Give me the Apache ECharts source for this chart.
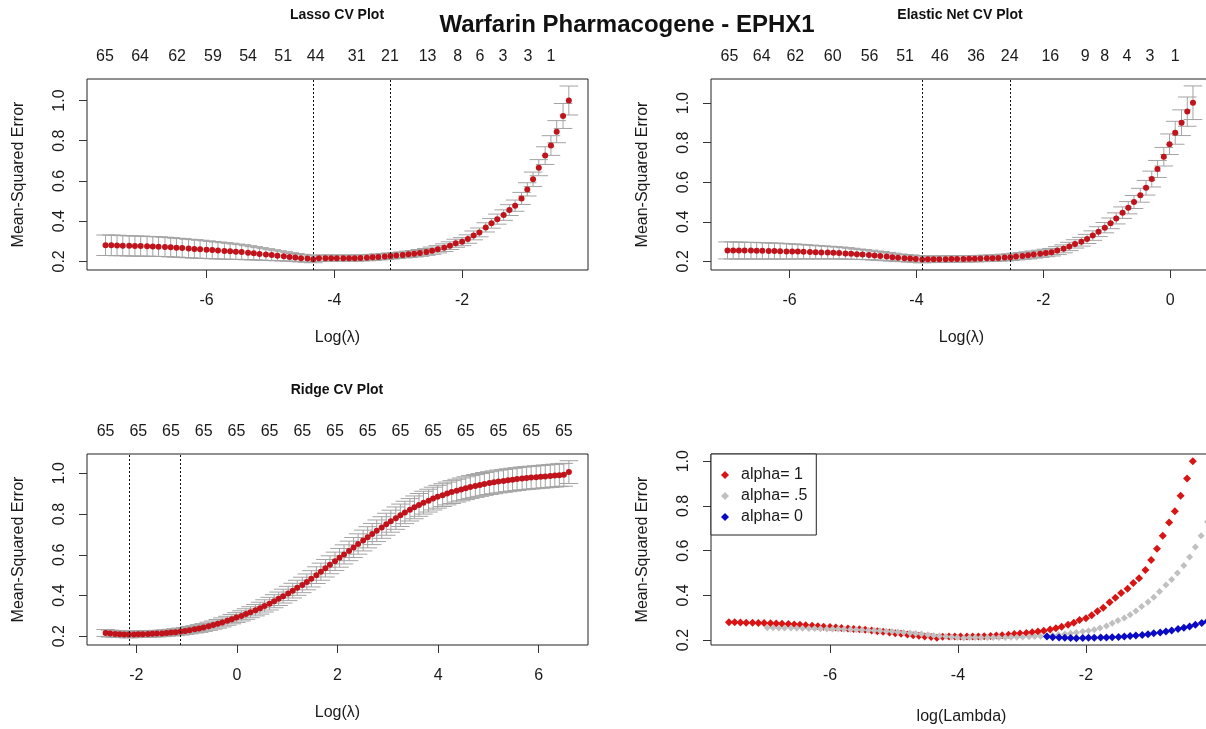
<!DOCTYPE html>
<html>
<head>
<meta charset="utf-8">
<title>Warfarin Pharmacogene - EPHX1</title>
<script src="https://cdn.jsdelivr.net/npm/echarts@6.0.0/dist/echarts.min.js"></script>
<style>
html, body { margin: 0; padding: 0; background: #fff; }
#chart { width: 1206px; height: 729px; }
</style>
</head>
<body>
<div id="chart"></div>
<script>
// log(lambda) grids and CV results
var lassoX = [-7.58, -7.49, -7.40, -7.31, -7.21, -7.12, -7.03, -6.93, -6.84, -6.75,
	-6.65, -6.56, -6.47, -6.38, -6.28, -6.19, -6.10, -6.00, -5.91, -5.82,
	-5.72, -5.63, -5.54, -5.45, -5.35, -5.26, -5.17, -5.07, -4.98, -4.89,
	-4.79, -4.70, -4.61, -4.52, -4.42, -4.33, -4.24, -4.14, -4.05, -3.96,
	-3.86, -3.77, -3.68, -3.59, -3.49, -3.40, -3.31, -3.21, -3.12, -3.03,
	-2.93, -2.84, -2.75, -2.66, -2.56, -2.47, -2.38, -2.28, -2.19, -2.10,
	-2.00, -1.91, -1.82, -1.73, -1.63, -1.54, -1.45, -1.35, -1.26, -1.17,
	-1.07, -0.98, -0.89, -0.80, -0.70, -0.61, -0.52, -0.42, -0.33];
var lassoMse = [0.280, 0.280, 0.279, 0.278, 0.277, 0.276, 0.276, 0.275, 0.274, 0.273,
	0.272, 0.270, 0.268, 0.266, 0.264, 0.262, 0.260, 0.258, 0.256, 0.254,
	0.252, 0.250, 0.248, 0.246, 0.243, 0.240, 0.237, 0.234, 0.231, 0.228,
	0.225, 0.222, 0.219, 0.216, 0.214, 0.210, 0.215, 0.216, 0.216, 0.216,
	0.216, 0.216, 0.216, 0.217, 0.218, 0.220, 0.222, 0.224, 0.227, 0.229,
	0.232, 0.235, 0.238, 0.242, 0.247, 0.253, 0.260, 0.268, 0.278,
	0.290, 0.298, 0.311, 0.329, 0.344, 0.369, 0.389, 0.410, 0.430, 0.455,
	0.477, 0.513, 0.558, 0.608, 0.666, 0.726, 0.776, 0.845, 0.923, 1.000];
var lassoSe = [0.051, 0.051, 0.051, 0.050, 0.050, 0.050, 0.050, 0.049, 0.049, 0.049,
	0.048, 0.048, 0.047, 0.047, 0.046, 0.046, 0.045, 0.044, 0.043, 0.042,
	0.041, 0.040, 0.038, 0.037, 0.035, 0.033, 0.031, 0.029, 0.027, 0.025,
	0.023, 0.021, 0.020, 0.019, 0.018, 0.017, 0.016, 0.016, 0.015, 0.015,
	0.015, 0.015, 0.015, 0.015, 0.015, 0.015, 0.015, 0.015, 0.015, 0.015,
	0.015, 0.016, 0.016, 0.017, 0.017, 0.018, 0.018, 0.019, 0.019,
	0.020, 0.020, 0.021, 0.022, 0.022, 0.023, 0.024, 0.025, 0.026, 0.027,
	0.028, 0.030, 0.033, 0.036, 0.040, 0.044, 0.049, 0.055, 0.062, 0.072];
var lassoLines = [-4.33, -3.12];
var lassoTopAt = [-7.59, -7.04, -6.46, -5.90, -5.35, -4.80, -4.29, -3.65, -3.13, -2.54, -2.07, -1.72, -1.36, -0.97, -0.61];
var lassoTopLab = ['65', '64', '62', '59', '54', '51', '44', '31', '21', '13', '8', '6', '3', '3', '1'];

var enetX = [-6.98, -6.89, -6.80, -6.71, -6.61, -6.52, -6.43, -6.33, -6.24, -6.15,
	-6.05, -5.96, -5.87, -5.78, -5.68, -5.59, -5.50, -5.40, -5.31, -5.22,
	-5.12, -5.03, -4.94, -4.85, -4.75, -4.66, -4.57, -4.47, -4.38, -4.29,
	-4.19, -4.10, -4.01, -3.91, -3.82, -3.73, -3.64, -3.54, -3.45, -3.36,
	-3.26, -3.17, -3.08, -2.99, -2.89, -2.80, -2.71, -2.61, -2.52, -2.43,
	-2.33, -2.24, -2.15, -2.05, -1.96, -1.87, -1.78, -1.68, -1.59, -1.50,
	-1.40, -1.31, -1.22, -1.13, -1.03, -0.94, -0.85, -0.75, -0.66, -0.57,
	-0.47, -0.38, -0.29, -0.20, -0.10, -0.01, 0.08, 0.18, 0.27, 0.36];
var enetMse = [0.255, 0.255, 0.254, 0.254, 0.254, 0.253, 0.253, 0.252, 0.252, 0.251,
	0.250, 0.250, 0.249, 0.248, 0.247, 0.246, 0.245, 0.244, 0.243, 0.242,
	0.240, 0.238, 0.236, 0.234, 0.232, 0.229, 0.227, 0.224, 0.221, 0.218,
	0.216, 0.214, 0.212, 0.209, 0.211, 0.211, 0.211, 0.211, 0.212, 0.212,
	0.212, 0.213, 0.213, 0.214, 0.215, 0.216, 0.217, 0.219, 0.221, 0.224,
	0.227, 0.230, 0.234, 0.238, 0.242, 0.246, 0.254, 0.263, 0.275, 0.288,
	0.299, 0.313, 0.330, 0.350, 0.370, 0.392, 0.417, 0.446, 0.471, 0.500,
	0.534, 0.572, 0.616, 0.667, 0.729, 0.792, 0.850, 0.901, 0.957, 1.002];
var enetSe = [0.043, 0.043, 0.043, 0.042, 0.042, 0.042, 0.041, 0.041, 0.040, 0.040,
	0.039, 0.038, 0.037, 0.036, 0.035, 0.034, 0.033, 0.032, 0.031, 0.030,
	0.029, 0.028, 0.026, 0.025, 0.024, 0.023, 0.022, 0.021, 0.020, 0.019,
	0.018, 0.018, 0.017, 0.017, 0.016, 0.016, 0.016, 0.016, 0.016, 0.016,
	0.016, 0.016, 0.016, 0.016, 0.016, 0.016, 0.016, 0.017, 0.017, 0.017,
	0.017, 0.018, 0.018, 0.018, 0.019, 0.019, 0.020, 0.020, 0.021, 0.021,
	0.022, 0.023, 0.024, 0.025, 0.026, 0.027, 0.028, 0.029, 0.031, 0.033,
	0.035, 0.037, 0.040, 0.043, 0.047, 0.052, 0.058, 0.065, 0.074, 0.085];
var enetLines = [-3.91, -2.52];
var enetTopAt = [-6.95, -6.44, -5.91, -5.32, -4.74, -4.18, -3.63, -3.06, -2.53, -1.89, -1.34, -1.03, -0.68, -0.32, 0.08];
var enetTopLab = ['65', '64', '62', '60', '56', '51', '46', '36', '24', '16', '9', '8', '4', '3', '1'];

var ridgeX = [-2.61, -2.52, -2.42, -2.33, -2.24, -2.15, -2.05, -1.96, -1.87, -1.77,
	-1.68, -1.59, -1.49, -1.40, -1.31, -1.22, -1.12, -1.03, -0.94, -0.84,
	-0.75, -0.66, -0.56, -0.47, -0.38, -0.29, -0.19, -0.10, -0.01, 0.09,
	0.18, 0.27, 0.37, 0.46, 0.55, 0.65, 0.74, 0.83, 0.92, 1.02,
	1.11, 1.20, 1.30, 1.39, 1.48, 1.58, 1.67, 1.76, 1.85, 1.95,
	2.04, 2.13, 2.23, 2.32, 2.41, 2.51, 2.60, 2.69, 2.78, 2.88,
	2.97, 3.06, 3.16, 3.25, 3.34, 3.44, 3.53, 3.62, 3.71, 3.81,
	3.90, 3.99, 4.09, 4.18, 4.27, 4.37, 4.46, 4.55, 4.64, 4.74,
	4.83, 4.92, 5.02, 5.11, 5.20, 5.30, 5.39, 5.48, 5.57, 5.67,
	5.76, 5.85, 5.95, 6.04, 6.13, 6.23, 6.32, 6.41, 6.50, 6.60];
var ridgeMse = [0.216, 0.213, 0.211, 0.210, 0.209, 0.208, 0.209, 0.210, 0.210, 0.211,
	0.212, 0.213, 0.214, 0.216, 0.218, 0.220, 0.223, 0.226, 0.230, 0.234,
	0.238, 0.243, 0.249, 0.255, 0.261, 0.268, 0.276, 0.284, 0.292, 0.300,
	0.309, 0.318, 0.328, 0.338, 0.349, 0.360, 0.372, 0.384, 0.397, 0.410,
	0.424, 0.438, 0.452, 0.467, 0.482, 0.500, 0.517, 0.534, 0.551, 0.568,
	0.585, 0.602, 0.619, 0.636, 0.653, 0.670, 0.686, 0.702, 0.718, 0.734,
	0.750, 0.765, 0.780, 0.794, 0.808, 0.821, 0.833, 0.845, 0.856, 0.866,
	0.876, 0.885, 0.893, 0.901, 0.908, 0.915, 0.921, 0.927, 0.933, 0.938,
	0.943, 0.948, 0.952, 0.956, 0.960, 0.963, 0.966, 0.969, 0.972, 0.975,
	0.977, 0.979, 0.981, 0.983, 0.985, 0.987, 0.989, 0.991, 0.993, 1.006];
var ridgeSe = [0.017, 0.017, 0.016, 0.016, 0.016, 0.016, 0.016, 0.016, 0.016, 0.016,
	0.016, 0.016, 0.016, 0.016, 0.016, 0.017, 0.017, 0.017, 0.018, 0.018,
	0.019, 0.019, 0.020, 0.020, 0.021, 0.022, 0.022, 0.023, 0.024, 0.025,
	0.026, 0.027, 0.028, 0.029, 0.030, 0.031, 0.032, 0.033, 0.034, 0.035,
	0.036, 0.037, 0.038, 0.039, 0.040, 0.041, 0.042, 0.043, 0.044, 0.045,
	0.046, 0.047, 0.048, 0.049, 0.050, 0.051, 0.052, 0.052, 0.053, 0.053,
	0.054, 0.054, 0.055, 0.055, 0.055, 0.055, 0.056, 0.056, 0.056, 0.056,
	0.056, 0.056, 0.056, 0.056, 0.056, 0.056, 0.056, 0.056, 0.056, 0.056,
	0.056, 0.056, 0.056, 0.056, 0.056, 0.056, 0.056, 0.056, 0.056, 0.056,
	0.056, 0.056, 0.056, 0.056, 0.056, 0.056, 0.056, 0.056, 0.056, 0.056];
var ridgeLines = [-2.15, -1.12];
var ridgeTopAt = [-2.61, -1.96, -1.31, -0.66, -0.01, 0.65, 1.30, 1.95, 2.60, 3.25, 3.90, 4.55, 5.20, 5.85, 6.50];
var ridgeTopLab = ['65', '65', '65', '65', '65', '65', '65', '65', '65', '65', '65', '65', '65', '65', '65'];

var yTicks = [0.2, 0.4, 0.6, 0.8, 1.0];
var alphaNames = ['alpha= 1', 'alpha= .5', 'alpha= 0'];

var FONT = '"Liberation Sans", Arial, sans-serif';
var INK = '#1a1a1a';
var myChart = echarts.init(document.getElementById('chart'));

function pairs(xs, ys) {
	return xs.map(function (x, i) { return [x, ys[i]]; });
}
function bars(xs, ys, se) {
	return xs.map(function (x, i) { return [x, ys[i] + se[i], ys[i] - se[i]]; });
}
// error bars like glmnet: whisker half width = 2% of the x range
function barRender(xs) {
	var barw = (xs[xs.length - 1] - xs[0]) * 0.02;
	return function (params, api) {
		var x = api.value(0);
		var a = api.coord([x, api.value(1)]);
		var b = api.coord([x, api.value(2)]);
		var l = api.coord([x - barw, api.value(1)])[0];
		var r = api.coord([x + barw, api.value(1)])[0];
		var st = { stroke: '#a3a3a3', lineWidth: 1, fill: null };
		return {
			type: 'group',
			children: [
				{ type: 'line', shape: { x1: a[0], y1: a[1], x2: b[0], y2: b[1] }, style: st },
				{ type: 'line', shape: { x1: l, y1: a[1], x2: r, y2: a[1] }, style: st },
				{ type: 'line', shape: { x1: l, y1: b[1], x2: r, y2: b[1] }, style: st }
			]
		};
	};
}
function xAxisBottom(g, min, max, ticks, name, gap) {
	return {
		type: 'value', gridIndex: g, position: 'bottom', min: min, max: max,
		name: name, nameLocation: 'middle', nameGap: gap,
		nameTextStyle: { fontSize: 16, color: INK, fontFamily: FONT },
		axisLine: { show: false, onZero: false },
		axisTick: { show: true, length: 8, customValues: ticks, lineStyle: { color: '#333' } },
		axisLabel: { customValues: ticks, margin: 23, fontSize: 16, color: INK, fontFamily: FONT },
		splitLine: { show: false }
	};
}
function xAxisTop(g, min, max, at, lab) {
	return {
		type: 'value', gridIndex: g, position: 'top', min: min, max: max,
		axisLine: { show: false, onZero: false }, axisTick: { show: false }, splitLine: { show: false },
		axisLabel: {
			customValues: at, margin: 14, fontSize: 16, color: INK, fontFamily: FONT,
			formatter: function (v) {
				for (var i = 0; i < at.length; i++) {
					if (Math.abs(at[i] - v) < 1e-6) return lab[i];
				}
				return '';
			}
		}
	};
}
function yAxis(g, min, max) {
	return {
		type: 'value', gridIndex: g, position: 'left', min: min, max: max,
		name: 'Mean-Squared Error', nameLocation: 'middle', nameGap: 60,
		nameTextStyle: { fontSize: 16, color: INK, fontFamily: FONT },
		axisLine: { show: false, onZero: false },
		axisTick: { show: true, length: 8, customValues: yTicks, lineStyle: { color: '#333' } },
		axisLabel: {
			customValues: yTicks, rotate: 90, margin: 19, fontSize: 16, color: INK, fontFamily: FONT,
			formatter: function (v) { return v.toFixed(1); }
		},
		splitLine: { show: false }
	};
}
function cvSeries(g, xs, ys, se, lines) {
	return [{
		type: 'custom', xAxisIndex: g, yAxisIndex: g, clip: true,
		renderItem: barRender(xs), encode: { x: 0, y: [1, 2] },
		data: bars(xs, ys, se), z: 2
	}, {
		type: 'scatter', xAxisIndex: g, yAxisIndex: g, symbol: 'circle', symbolSize: 6,
		itemStyle: { color: '#c0141c', opacity: 1 }, data: pairs(xs, ys), z: 3,
		markLine: {
			silent: true, symbol: ['none', 'none'], label: { show: false },
			lineStyle: { color: '#111', width: 1, type: [2, 2] },
			data: lines.map(function (v) { return { xAxis: v }; })
		}
	}];
}
function gridAt(left, top) {
	return {
		left: left, top: top, width: 501, height: 191, show: true,
		borderColor: '#222', borderWidth: 1, backgroundColor: 'transparent',
		containLabel: false, outerBoundsMode: 'none'
	};
}
function txt(x, y, s, size, weight) {
	return {
		type: 'text', x: x, y: y, silent: true,
		style: { text: s, fontSize: size, fontWeight: weight, fontFamily: FONT, fill: '#111', align: 'center', verticalAlign: 'middle' }
	};
}

var series = []
	.concat(cvSeries(0, lassoX, lassoMse, lassoSe, lassoLines))
	.concat(cvSeries(1, enetX, enetMse, enetSe, enetLines))
	.concat(cvSeries(2, ridgeX, ridgeMse, ridgeSe, ridgeLines));
// comparison panel
series.push({
	name: alphaNames[0], type: 'scatter', xAxisIndex: 3, yAxisIndex: 3, clip: true,
	symbol: 'diamond', symbolSize: 8, itemStyle: { color: '#d81414', opacity: 1 }, data: pairs(lassoX, lassoMse)
}, {
	name: alphaNames[1], type: 'scatter', xAxisIndex: 3, yAxisIndex: 3, clip: true,
	symbol: 'diamond', symbolSize: 7, itemStyle: { color: '#c0c0c0', opacity: 1 }, data: pairs(enetX, enetMse)
}, {
	name: alphaNames[2], type: 'scatter', xAxisIndex: 3, yAxisIndex: 3, clip: true,
	symbol: 'diamond', symbolSize: 8, itemStyle: { color: '#0a0ac4', opacity: 1 }, data: pairs(ridgeX, ridgeMse)
});

myChart.setOption({
	animation: false,
	backgroundColor: '#fff',
	grid: [gridAt(87, 79), gridAt(711, 79), gridAt(87, 454), gridAt(711, 454)],
	xAxis: [
		xAxisBottom(0, -7.87, -0.03, [-6, -4, -2], 'Log(λ)', 60),
		xAxisBottom(1, -7.24, 0.66, [-6, -4, -2, 0], 'Log(λ)', 60),
		xAxisBottom(2, -2.98, 6.98, [-2, 0, 2, 4, 6], 'Log(λ)', 60),
		xAxisBottom(3, -7.86, -0.03, [-6, -4, -2], 'log(Lambda)', 64),
		xAxisTop(0, -7.87, -0.03, lassoTopAt, lassoTopLab),
		xAxisTop(1, -7.24, 0.66, enetTopAt, enetTopLab),
		xAxisTop(2, -2.98, 6.98, ridgeTopAt, ridgeTopLab)
	],
	yAxis: [yAxis(0, 0.157, 1.107), yAxis(1, 0.156, 1.122), yAxis(2, 0.157, 1.095), yAxis(3, 0.178, 1.032)],
	legend: {
		data: alphaNames, orient: 'vertical', left: 711, top: 454,
		icon: 'diamond', itemWidth: 8, itemHeight: 8, itemGap: 5,
		padding: [13, 9, 10, 10],
		backgroundColor: '#fff', borderColor: '#222', borderWidth: 1,
		textStyle: { fontSize: 16, lineHeight: 16, color: INK, fontFamily: FONT, padding: [0, 0, 0, 7] },
		selectedMode: false
	},
	graphic: [
		txt(627, 25, 'Warfarin Pharmacogene - EPHX1', 24, 'bold'),
		txt(337, 15, 'Lasso CV Plot', 14, 'bold'),
		txt(960, 15, 'Elastic Net CV Plot', 14, 'bold'),
		txt(337, 390, 'Ridge CV Plot', 14, 'bold')
	],
	series: series
});
</script>
</body>
</html>
